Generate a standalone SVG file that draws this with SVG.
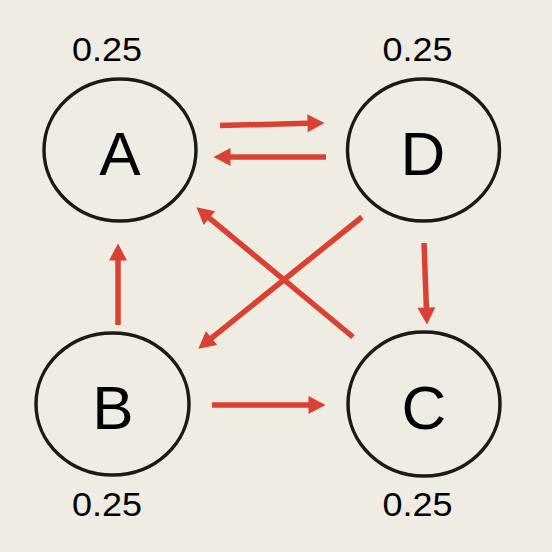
<svg xmlns="http://www.w3.org/2000/svg" width="552" height="552" viewBox="0 0 552 552">
  <style>
    .node ellipse { fill: none; stroke: #1b1a14; stroke-width: 3.5; }
    .label { font-family: "Liberation Sans", Arial, sans-serif; font-size: 62px; fill: #000; text-anchor: middle; }
    .prob { font-family: "Liberation Sans", Arial, sans-serif; font-size: 32.5px; fill: #000; text-anchor: middle; }
    .edge { stroke: #d94133; stroke-width: 5.5; fill: none; marker-end: url(#head); }
  </style>
  <defs>
    <marker id="head" markerUnits="userSpaceOnUse" viewBox="0 0 17 18" markerWidth="17" markerHeight="18" refX="0.5" refY="9" orient="auto" overflow="visible">
      <path d="M0,0 L17,9 L0,18 Z" fill="#d94133"/>
    </marker>
  </defs>
  <rect width="552" height="552" fill="#efece3"/>

  <g id="edges">
    <line class="edge" x1="220" y1="125.5" x2="308" y2="123.3"/>
    <line class="edge" x1="326" y1="157" x2="230" y2="157"/>
    <line class="edge" x1="362" y1="217" x2="211.2" y2="338.3"/>
    <line class="edge" x1="353" y1="337" x2="209.1" y2="217.8"/>
    <line class="edge" x1="424" y1="243" x2="426.4" y2="308"/>
    <line class="edge" x1="118" y1="325" x2="118" y2="260"/>
    <line class="edge" x1="212" y1="405" x2="309" y2="405"/>
  </g>

  <g id="node-A" class="node">
    <ellipse cx="120" cy="150" rx="76" ry="71"/>
    <text class="label" x="120" y="175">A</text>
    <text class="prob" x="107" y="61" textLength="70" lengthAdjust="spacingAndGlyphs">0.25</text>
  </g>
  <g id="node-D" class="node">
    <ellipse cx="423.5" cy="150" rx="76" ry="71"/>
    <text class="label" x="423" y="175">D</text>
    <text class="prob" x="417.5" y="61" textLength="70" lengthAdjust="spacingAndGlyphs">0.25</text>
  </g>
  <g id="node-B" class="node">
    <ellipse cx="112.5" cy="404" rx="76.5" ry="71"/>
    <text class="label" x="113" y="429">B</text>
    <text class="prob" x="107" y="516" textLength="70" lengthAdjust="spacingAndGlyphs">0.25</text>
  </g>
  <g id="node-C" class="node">
    <ellipse cx="424" cy="404" rx="76" ry="72"/>
    <text class="label" x="424" y="429">C</text>
    <text class="prob" x="417.5" y="516" textLength="70" lengthAdjust="spacingAndGlyphs">0.25</text>
  </g>
</svg>
